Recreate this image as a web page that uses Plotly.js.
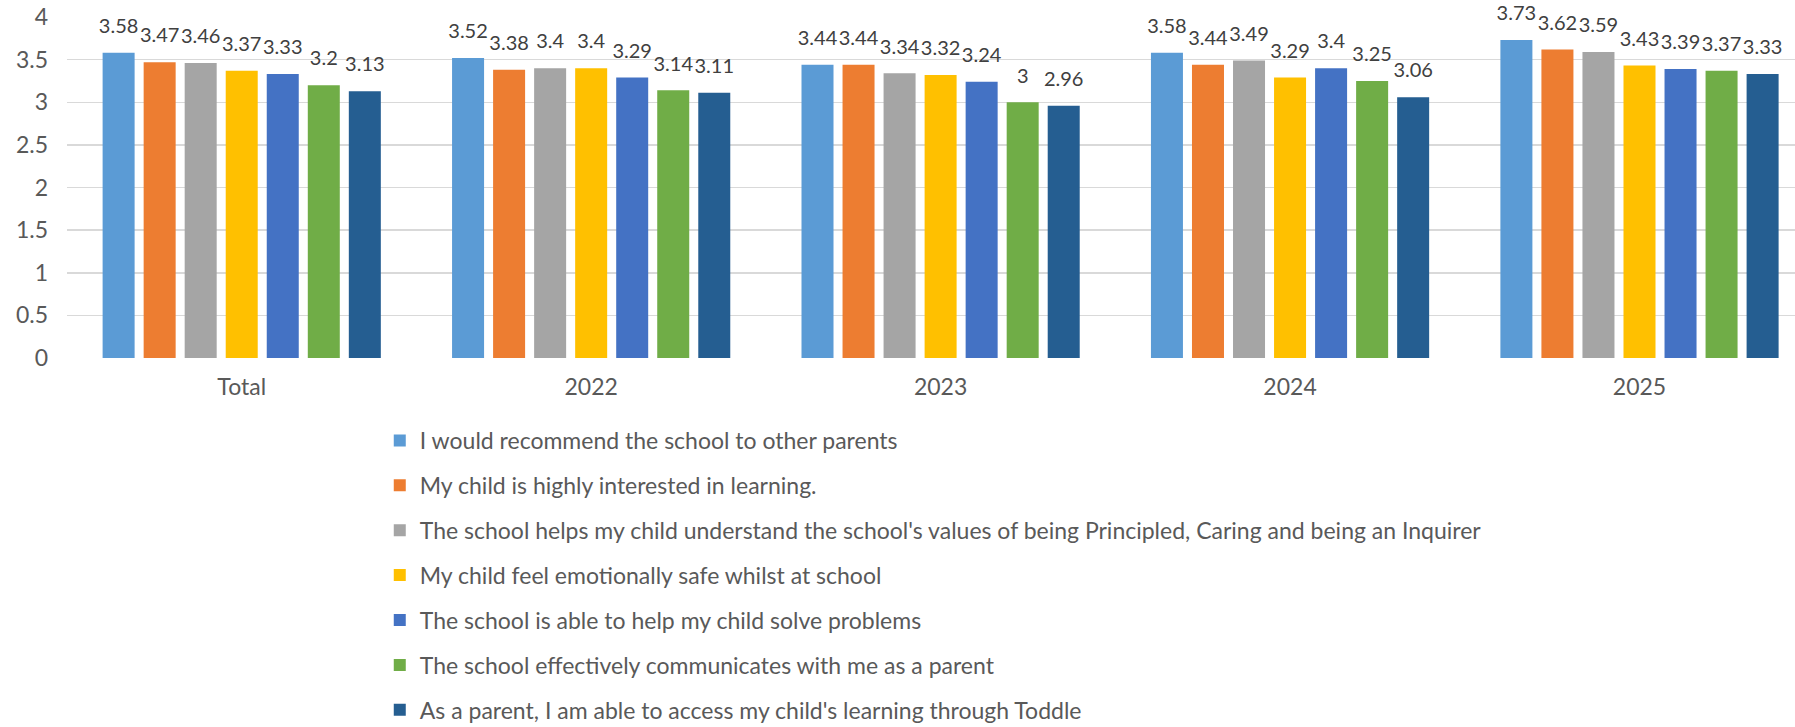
<!DOCTYPE html>
<html>
<head>
<meta charset="utf-8">
<script src="https://cdn.plot.ly/plotly-3.0.1.min.js"></script>
<style>
  html, body { margin: 0; padding: 0; background: #ffffff; }
  #chart { width: 1795px; height: 727px; }
</style>
</head>
<body>
<div id="chart"></div>
<script>
// Categories (x axis)
const categories = ["Total", "2022", "2023", "2024", "2025"];

// Series names (legend)
const seriesNames = [
  "I would recommend the school to other parents",
  "My child is highly interested in learning.",
  "The school helps my child understand the school's values of being Principled, Caring and being an Inquirer",
  "My child feel emotionally safe whilst at school",
  "The school is able to help my child solve problems",
  "The school effectively communicates with me as a parent",
  "As a parent, I am able to access my child's learning through Toddle"
];

// Series values (one array per statement, across categories)
const recommend      = [3.58, 3.52, 3.44, 3.58, 3.73];
const interested     = [3.47, 3.38, 3.44, 3.44, 3.62];
const values         = [3.46, 3.40, 3.34, 3.49, 3.59];
const safe           = [3.37, 3.40, 3.32, 3.29, 3.43];
const solveProblems  = [3.33, 3.29, 3.24, 3.40, 3.39];
const communicates   = [3.20, 3.14, 3.00, 3.25, 3.37];
const toddle         = [3.13, 3.11, 2.96, 3.06, 3.33];

// Y axis ticks
const yTicks = [0, 0.5, 1, 1.5, 2, 2.5, 3, 3.5, 4];

const seriesValues = [recommend, interested, values, safe, solveProblems, communicates, toddle];
const colors = ["#5B9BD5", "#ED7D31", "#A5A5A5", "#FFC000", "#4472C4", "#70AD47", "#255E91"];

const FONT = "Lato, 'Open Sans', sans-serif";
const GAP = 0.178;

// Bars
const barTraces = seriesValues.map((vals, i) => ({
  type: "bar",
  name: seriesNames[i],
  x: categories,
  y: vals,
  marker: { color: colors[i] },
  legendgroup: "g" + i,
  hoverinfo: "skip"
}));

// Data labels: grouped scatter text placed at each bar's value
const labelTraces = seriesValues.map((vals, i) => ({
  type: "scatter",
  mode: "markers+text",
  x: categories,
  y: vals,
  text: vals.map(v => String(v)),
  textposition: "top center",
  textfont: { family: FONT, size: 20, color: "#404040" },
  marker: { size: 22, color: "rgba(0,0,0,0)" },
  cliponaxis: false,
  showlegend: false,
  legendgroup: "g" + i,
  hoverinfo: "skip"
}));

const layout = {
  width: 1795,
  height: 727,
  margin: { l: 67, r: 0, t: 17, b: 369, pad: 0, autoexpand: false },
  paper_bgcolor: "#ffffff",
  plot_bgcolor: "#ffffff",
  font: { family: FONT, size: 20, color: "#595959" },
  barmode: "group",
  bargap: GAP,
  bargroupgap: 0.22,
  scattermode: "group",
  scattergap: GAP,
  showlegend: true,
  legend: {
    orientation: "v",
    xref: "paper",
    yref: "container",
    x: 0.181,
    xanchor: "left",
    y: 0.4237,
    yanchor: "top",
    traceorder: "grouped",
    tracegroupgap: 12,
    font: { family: FONT, size: 23, color: "#595959" },
    bgcolor: "rgba(0,0,0,0)"
  },
  xaxis: {
    type: "category",
    range: [-0.5, 4.445],
    showgrid: false,
    showline: false,
    zeroline: false,
    ticks: "",
    ticklabelstandoff: 13,
    tickfont: { family: FONT, size: 23, color: "#595959" }
  },
  yaxis: {
    range: [0, 4],
    tickvals: yTicks,
    ticktext: yTicks.map(v => String(v)),
    showgrid: true,
    gridcolor: "#D9D9D9",
    gridwidth: 1.5,
    zeroline: false,
    showline: false,
    ticks: "",
    ticklabelstandoff: 18,
    tickfont: { family: FONT, size: 23, color: "#595959" }
  }
};

Plotly.newPlot("chart", barTraces.concat(labelTraces), layout, { staticPlot: true, displayModeBar: false });
</script>
</body>
</html>
